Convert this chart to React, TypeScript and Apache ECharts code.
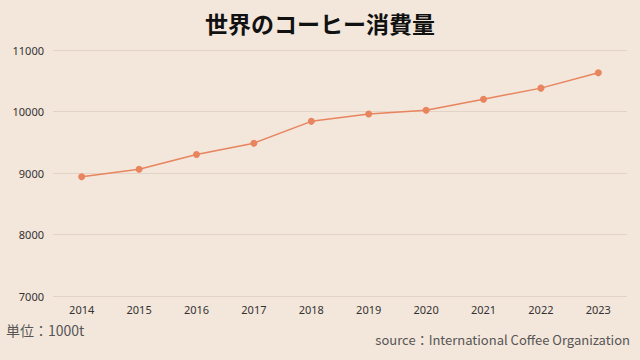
import React, { useEffect, useRef } from "react";
import * as echarts from "echarts";

const years = ["2014", "2015", "2016", "2017", "2018", "2019", "2020", "2021", "2022", "2023"];
const consumption = [8940, 9060, 9300, 9485, 9840, 9960, 10020, 10200, 10380, 10630];
const titleText = "世界のコーヒー消費量";
const unitText = "単位：1000t";
const sourceText = "source：International Coffee Organization";

export default function App() {
  const ref = useRef<HTMLDivElement>(null);
  useEffect(() => {
    if (!ref.current) return;
    const chart = echarts.init(ref.current, null, { renderer: "svg" });
    chart.setOption({
      animation: false,
      backgroundColor: "#f3e6db",
      textStyle: { fontFamily: "'Noto Sans', sans-serif" },
      title: {
        text: titleText,
        left: "center",
        top: 6,
        textStyle: { fontSize: 23, fontWeight: "bold", color: "#111", fontFamily: "'Noto Sans CJK JP', sans-serif" },
      },
      grid: { left: 53, right: 13, top: 50, bottom: 64 },
      xAxis: {
        type: "category",
        data: years,
        boundaryGap: true,
        axisLine: { show: false },
        axisTick: { show: false },
        axisLabel: { color: "#333", fontSize: 11, margin: 8 },
      },
      yAxis: {
        type: "value",
        min: 7000,
        max: 11000,
        interval: 1000,
        axisLine: { show: false },
        axisTick: { show: false },
        axisLabel: { color: "#333", fontSize: 11, margin: 9, formatter: (v: number) => String(v) },
        splitLine: { lineStyle: { color: "#e2d3c6", width: 1 } },
      },
      series: [
        {
          type: "line",
          data: consumption,
          symbol: "circle",
          symbolSize: 7,
          itemStyle: { color: "#e8845e" },
          lineStyle: { color: "#e8845e", width: 1.5 },
        },
      ],
      graphic: [
        {
          type: "text",
          left: 6,
          top: 323,
          style: { text: unitText, fontSize: 14, fill: "#555", fontFamily: "'Noto Sans CJK JP', sans-serif" },
        },
        {
          type: "text",
          right: 10,
          top: 333,
          style: { text: sourceText, fontSize: 13, fill: "#555", fontFamily: "'Noto Sans CJK JP', sans-serif" },
        },
      ],
    });
    return () => chart.dispose();
  }, []);
  return <div ref={ref} style={{ position: "fixed", left: 0, top: 0, width: 640, height: 360 }} />;
}
